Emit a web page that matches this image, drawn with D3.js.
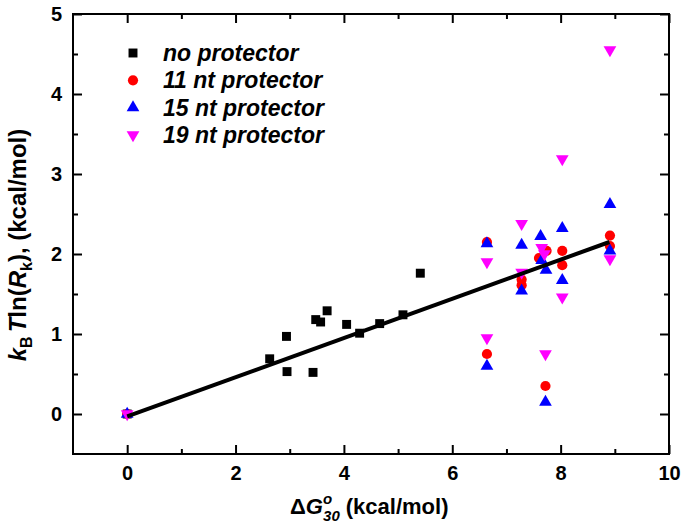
<!DOCTYPE html>
<html><head><meta charset="utf-8">
<script src="https://cdn.jsdelivr.net/npm/d3@7"></script>
<style>body{margin:0;background:#fff}svg{font-family:"Liberation Sans",Arial,sans-serif;font-weight:bold}</style>
</head><body><svg id="c" width="685" height="531"></svg>
<script>
const noProtX = [0, 2.63, 2.94, 2.95, 3.43, 3.48, 3.57, 3.69, 4.05, 4.29, 4.66, 5.09, 5.41];
const noProtY = [0, 0.69, 0.97, 0.53, 0.52, 1.18, 1.15, 1.29, 1.12, 1.01, 1.13, 1.24, 1.76];
const p11X = [0, 6.64, 6.64, 7.28, 7.28, 7.60, 7.74, 7.72, 8.03, 8.03, 8.91, 8.91];
const p11Y = [0, 2.15, 0.75, 1.68, 1.61, 1.95, 2.04, 0.35, 2.04, 1.86, 2.23, 2.10];
const p15X = [0, 6.64, 6.64, 7.28, 7.28, 7.63, 7.65, 7.73, 7.72, 8.03, 8.03, 8.91, 8.91];
const p15Y = [0, 2.13, 0.60, 2.11, 1.54, 2.22, 1.92, 1.80, 0.15, 2.32, 1.67, 2.62, 2.04];
const p19X = [0, 6.64, 6.64, 7.28, 7.28, 7.65, 7.70, 7.72, 8.03, 8.03, 8.91, 8.91];
const p19Y = [0, 1.90, 0.95, 2.38, 1.77, 2.08, 2.00, 0.75, 3.19, 1.46, 4.55, 1.94];
const fitX = [0, 8.9];
const fitY = [-0.03, 2.15];
const xTicks = [0, 2, 4, 6, 8, 10];
const yTicks = [0, 1, 2, 3, 4, 5];
const legendLabels = ["no protector", "11 nt protector", "15 nt protector", "19 nt protector"];

const svg = d3.select("#c");
const L = 73, R = 669, T = 14, B = 454;
const x = d3.scaleLinear().domain([-1, 10]).range([L, R]);
const y = d3.scaleLinear().domain([-0.5, 5]).range([B, T]);

const g = svg.append("g");
const xMinor = d3.range(-1, 10.01, 1).filter(v => !xTicks.includes(v) && v > -1 && v < 10);
const yMinor = d3.range(-0.5, 5.01, 0.5).filter(v => !yTicks.includes(v) && v > -0.5 && v < 5);
function styleAxis(sel){ sel.select(".domain").remove(); sel.selectAll("line").attr("stroke","#000").attr("stroke-width",2); sel.selectAll("text").attr("font-size",20).attr("font-weight","bold").attr("fill","#000").attr("font-family","Liberation Sans, Arial, sans-serif"); }
g.append("g").attr("transform",`translate(0,${B})`).call(d3.axisBottom(x).tickValues(xTicks).tickSize(-9).tickPadding(12).tickFormat(d3.format("d"))).call(styleAxis);
g.append("g").attr("transform",`translate(0,${B})`).call(d3.axisBottom(x).tickValues(xMinor).tickSize(-5).tickFormat("")).call(styleAxis);
g.append("g").attr("transform",`translate(0,${T})`).call(d3.axisTop(x).tickValues(xTicks).tickSize(-9).tickFormat("")).call(styleAxis);
g.append("g").attr("transform",`translate(0,${T})`).call(d3.axisTop(x).tickValues(xMinor).tickSize(-5).tickFormat("")).call(styleAxis);
g.append("g").attr("transform",`translate(${L},0)`).call(d3.axisLeft(y).tickValues(yTicks).tickSize(-9).tickPadding(11).tickFormat(d3.format("d"))).call(styleAxis);
g.append("g").attr("transform",`translate(${L},0)`).call(d3.axisLeft(y).tickValues(yMinor).tickSize(-5).tickFormat("")).call(styleAxis);
g.append("g").attr("transform",`translate(${R},0)`).call(d3.axisRight(y).tickValues(yTicks).tickSize(-9).tickFormat("")).call(styleAxis);
g.append("g").attr("transform",`translate(${R},0)`).call(d3.axisRight(y).tickValues(yMinor).tickSize(-5).tickFormat("")).call(styleAxis);
g.append("rect").attr("x",L).attr("y",T).attr("width",R-L).attr("height",B-T).attr("fill","none").attr("stroke","#000").attr("stroke-width",2);

const sq = d3.symbol().type(d3.symbolSquare).size(80);
const ci = d3.symbol().type(d3.symbolCircle).size(82);
const tri = d3.symbol().type(d3.symbolTriangle).size(70);
function draw(xs, ys, sym, color, rot){
  g.append("g").selectAll("path").data(xs.map((v,i)=>[v,ys[i]])).join("path")
    .attr("d", sym).attr("fill", color)
    .attr("transform", d=>`translate(${x(d[0])},${y(d[1])})${rot?" rotate(180)":""}`);
}
draw(noProtX, noProtY, sq, "#000", false);
draw(p11X, p11Y, ci, "#ff0000", false);
draw(p15X, p15Y, tri, "#0000ff", false);
draw(p19X, p19Y, tri, "#ff00ff", true);

g.append("path").datum(fitX.map((v,i)=>[v,fitY[i]]))
  .attr("d", d3.line().x(d=>x(d[0])).y(d=>y(d[1])))
  .attr("stroke","#000").attr("stroke-width",4).attr("fill","none");

const legSyms = [[sq,"#000",false],[ci,"#ff0000",false],[tri,"#0000ff",false],[tri,"#ff00ff",true]];
legendLabels.forEach((lab,i)=>{
  const yy = 53 + i*27.3;
  g.append("path").attr("d", legSyms[i][0]).attr("fill", legSyms[i][1])
    .attr("transform", `translate(133,${yy})${legSyms[i][2]?" rotate(180)":""}`);
  g.append("text").attr("x",163).attr("y",yy+8).attr("font-size",23).attr("font-style","italic").text(lab);
});

const yl = svg.append("text").attr("transform","translate(26,245) rotate(-90)").attr("text-anchor","middle").attr("font-size",24);
yl.append("tspan").attr("font-style","italic").text("k");
yl.append("tspan").attr("font-size",16).attr("dy",6).text("B");
yl.append("tspan").attr("dy",-6).attr("dx",4).attr("font-style","italic").text("T");
yl.append("tspan").text("ln(");
yl.append("tspan").attr("font-style","italic").text("R");
yl.append("tspan").attr("font-size",16).attr("dy",6).text("k");
yl.append("tspan").attr("dy",-6).text("), (kcal/mol)");

const xl = svg.append("text").attr("x",290).attr("y",514).attr("font-size",22);
xl.append("tspan").text("\u0394");
xl.append("tspan").attr("font-style","italic").text("G");
xl.append("tspan").attr("font-style","italic").attr("font-size",15).attr("dy",-10).text("o");
xl.append("tspan").attr("font-style","italic").attr("font-size",15).attr("dy",17).attr("dx",-9).text("30");
xl.append("tspan").attr("dy",-7).attr("dx",6).text("(kcal/mol)");
</script></body></html>
